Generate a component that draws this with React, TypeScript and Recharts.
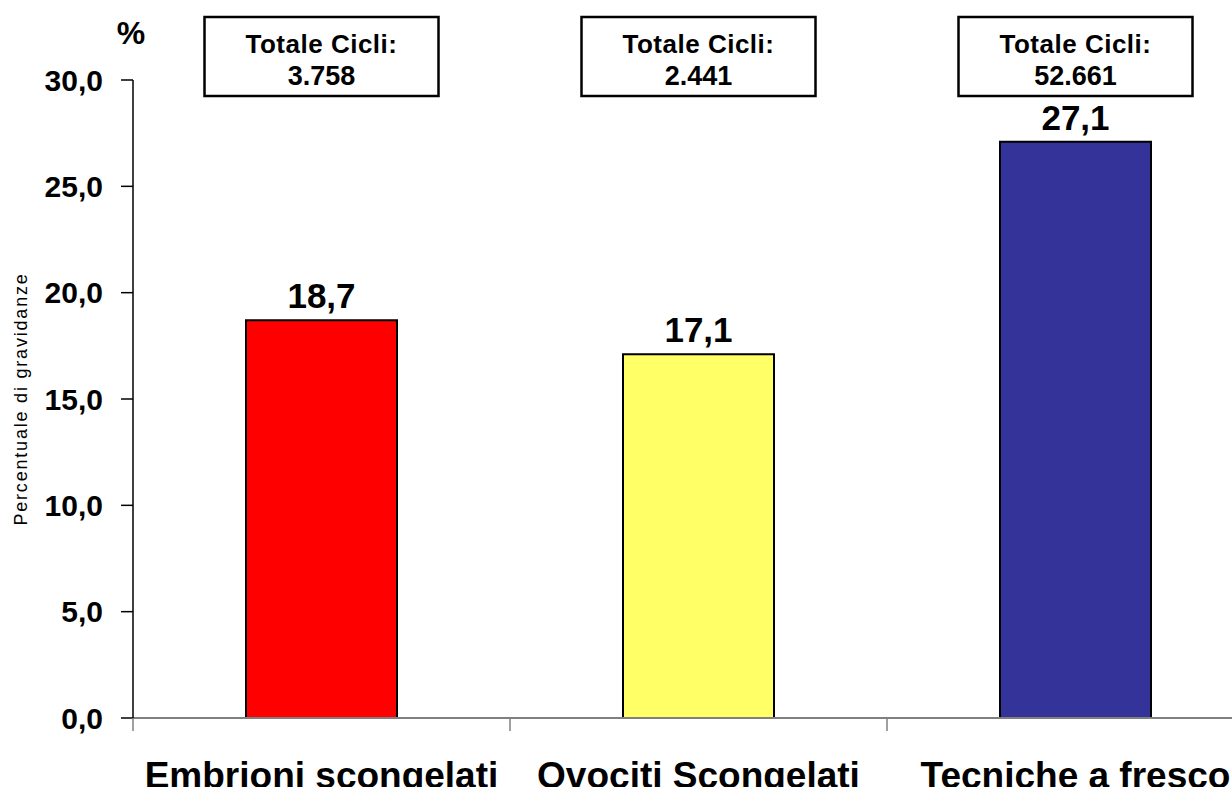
import { BarChart, Bar, XAxis, YAxis, Cell, LabelList } from 'recharts';

// chart data
const categories: string[] = ['Embrioni scongelati', 'Ovociti Scongelati', 'Tecniche a fresco'];
const pregnancyRate: number[] = [18.7, 17.1, 27.1];
const totalCycles: number[] = [3758, 2441, 52661];
const yTicks: number[] = [0, 5, 10, 15, 20, 25, 30];

const barColors = ['#FF0000', '#FFFF66', '#333399'];

const data = categories.map((name, i) => ({
  name,
  rate: pregnancyRate[i],
  cycles: totalCycles[i],
}));

const CHART_W = 1264;
const CHART_H = 787;
const Y_AXIS_W = 133;
const BAND = (CHART_W - Y_AXIS_W) / categories.length;
const FONT = '"Liberation Sans", Arial, sans-serif';

const comma = (v: number) => v.toFixed(1).replace('.', ',');
const thousands = (v: number) => String(v).replace(/\B(?=(\d{3})+(?!\d))/g, '.');

const CategoryTick = (props: any) => {
  const { x, y, payload } = props;
  return (
    <g>
      <line x1={x - BAND / 2} x2={x - BAND / 2} y1={y} y2={y + 13} stroke="#808080" strokeWidth={1.5} />
      <text x={x} y={y + 70} textAnchor="middle" fontFamily={FONT} fontWeight="bold" fontSize={37} fill="#000">
        {payload.value}
      </text>
    </g>
  );
};

const CyclesBox = (props: any) => {
  const { x, width, value } = props;
  const cx = Number(x) + Number(width) / 2;
  return (
    <g>
      <rect x={cx - 117} y={17} width={234} height={79} fill="#fff" stroke="#000" strokeWidth={2.5} />
      <text x={cx} y={53} textAnchor="middle" fontFamily={FONT} fontWeight="bold" fontSize={26} letterSpacing={0.5} fill="#000">
        Totale Cicli:
      </text>
      <text x={cx} y={85} textAnchor="middle" fontFamily={FONT} fontWeight="bold" fontSize={27} fill="#000">
        {thousands(Number(value))}
      </text>
    </g>
  );
};

const AxisTitle = (props: any) => {
  const vb = props.viewBox || { x: 0, y: 80, width: Y_AXIS_W, height: 638 };
  const midY = vb.y + vb.height / 2;
  return (
    <g>
      <text x={vb.x + vb.width - 2} y={44} textAnchor="middle" fontFamily={FONT} fontWeight="bold" fontSize={32} fill="#000">
        %
      </text>
      <text
        x={21}
        y={midY}
        transform={`rotate(-90, 21, ${midY})`}
        textAnchor="middle"
        dominantBaseline="central"
        fontFamily={FONT}
        fontSize={18}
        letterSpacing={1.8}
        fill="#000"
      >
        Percentuale di gravidanze
      </text>
    </g>
  );
};

export default function App() {
  return (
    <div
      style={{
        position: 'fixed',
        left: 0,
        top: 0,
        width: 1232,
        height: 787,
        overflow: 'hidden',
        background: '#fff',
      }}
    >
      <BarChart width={CHART_W} height={CHART_H} data={data} margin={{ top: 80, right: 0, bottom: 0, left: 0 }}>
        <XAxis
          dataKey="name"
          height={69}
          axisLine={{ stroke: '#808080', strokeWidth: 2 }}
          tickLine={false}
          tickSize={0}
          tickMargin={0}
          tick={<CategoryTick />}
          interval={0}
        />
        <YAxis
          width={Y_AXIS_W}
          domain={[0, 30]}
          ticks={yTicks}
          interval={0}
          tickFormatter={comma}
          axisLine={{ stroke: '#000', strokeWidth: 1.5 }}
          tickLine={{ stroke: '#000', strokeWidth: 1.5 }}
          tickSize={12}
          tickMargin={18}
          tick={{ fontFamily: FONT, fontWeight: 'bold', fontSize: 30, fill: '#000' }}
          label={<AxisTitle />}
        />
        <Bar dataKey="rate" barSize={151} stroke="#000" strokeWidth={2} isAnimationActive={false}>
          {data.map((_, i) => (
            <Cell key={i} fill={barColors[i]} />
          ))}
          <LabelList
            dataKey="rate"
            position="top"
            offset={12}
            formatter={(v: any) => comma(Number(v))}
            style={{ fontFamily: FONT, fontWeight: 'bold', fontSize: 35, fill: '#000' }}
          />
          <LabelList dataKey="cycles" content={<CyclesBox />} />
        </Bar>
      </BarChart>
    </div>
  );
}
